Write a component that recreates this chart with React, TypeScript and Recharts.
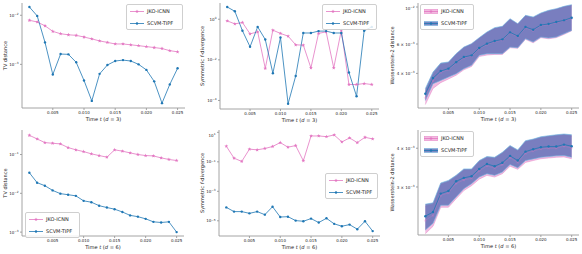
import React from "react";
import { ComposedChart, Line, Area, XAxis, YAxis, Legend } from "recharts";

const PINK = "#e377c2";
const BLUE = "#1f77b4";
const BAND = "#6473b8";
const BAND_EDGE = "#6cb4e0";
const FRAME = "#9a9a9a";

// time steps
const times = [
  0.00125, 0.0025, 0.00375, 0.005, 0.00625, 0.0075, 0.00875, 0.01, 0.01125, 0.0125,
  0.01375, 0.015, 0.01625, 0.0175, 0.01875, 0.02, 0.02125, 0.0225, 0.02375, 0.025,
];
const xTicks = [0.005, 0.01, 0.015, 0.02, 0.025];

// d = 3
const tvJko3 = [0.0079, 0.0073, 0.0061, 0.0047, 0.0042, 0.004, 0.0039, 0.0036, 0.0033, 0.003, 0.0028, 0.0026, 0.0026, 0.0025, 0.0024, 0.0023, 0.0022, 0.0021, 0.0019, 0.0018];
const tvScvm3 = [0.0147, 0.0097, 0.0028, 0.00062, 0.00162, 0.0016, 0.0011, 0.00047, 0.00018, 0.00064, 0.00097, 0.00117, 0.00122, 0.00117, 0.001, 0.00077, 0.00045, 0.000162, 0.00039, 0.00083];
const fdivJko3 = [0.83, 0.59, 0.69, 0.19, 0.24, 0.0038, 0.29, 0.2, 0.147, 0.055, 0.053, 0.004, 0.2, 0.24, 0.004, 0.29, 0.00061, 0.00061, 0.00068, 0.00061];
const fdivScvm3 = [4.0, 2.46, 0.27, 0.044, 0.42, 0.1, 0.0022, 0.126, 0.000069, 0.0016, 0.21, 0.21, 0.26, 0.26, 0.21, 0.21, 0.0024, 0.00016, 0.27, 0.42];
const w2Jko3 = [0.00285, 0.00362, 0.00405, 0.00422, 0.0046, 0.00495, 0.00508, 0.0056, 0.00596, 0.0062, 0.00632, 0.00698, 0.00662, 0.0075, 0.00722, 0.00772, 0.00783, 0.00805, 0.00825, 0.00855];
const w2JkoLo3 = [0.0026, 0.00325, 0.00352, 0.0037, 0.0039, 0.0042, 0.0044, 0.00505, 0.00515, 0.0052, 0.0052, 0.0057, 0.00565, 0.0064, 0.0061, 0.00655, 0.00645, 0.00655, 0.00685, 0.0072];
const w2JkoHi3 = [0.0031, 0.0039, 0.0045, 0.0046, 0.0052, 0.0057, 0.006, 0.0065, 0.007, 0.0074, 0.0076, 0.0084, 0.0079, 0.0088, 0.0086, 0.0091, 0.0094, 0.0097, 0.01, 0.0102];
const w2Scvm3 = [0.00302, 0.00375, 0.00413, 0.00427, 0.00466, 0.00501, 0.00513, 0.00568, 0.00603, 0.00625, 0.0064, 0.00705, 0.0067, 0.00759, 0.00731, 0.0078, 0.00791, 0.00813, 0.00832, 0.00863];
const w2ScvmLo3 = [0.00275, 0.00347, 0.00363, 0.0038, 0.00398, 0.00427, 0.00447, 0.00513, 0.00525, 0.00525, 0.00525, 0.00575, 0.0057, 0.00646, 0.00617, 0.00661, 0.00652, 0.00661, 0.00692, 0.00724];
const w2ScvmHi3 = [0.00324, 0.00407, 0.00461, 0.00468, 0.00525, 0.00575, 0.00603, 0.00655, 0.00708, 0.00752, 0.00766, 0.00851, 0.00794, 0.00891, 0.00871, 0.00921, 0.00955, 0.00977, 0.01009, 0.01033];

// d = 6
const tvJko6 = [0.313, 0.252, 0.203, 0.195, 0.188, 0.151, 0.132, 0.119, 0.104, 0.094, 0.0855, 0.132, 0.122, 0.11, 0.1, 0.094, 0.092, 0.082, 0.0745, 0.07];
const tvScvm6 = [0.0339, 0.0188, 0.0157, 0.0119, 0.0098, 0.0092, 0.0086, 0.0064, 0.0059, 0.0048, 0.0043, 0.0039, 0.0033, 0.0027, 0.0025, 0.0022, 0.00184, 0.00177, 0.00184, 0.001];
const fdivJko6 = [1.14, 0.178, 0.106, 0.72, 0.65, 0.8, 1.09, 2.02, 0.98, 1.27, 0.118, 5.66, 5.66, 5.11, 6.62, 2.24, 4.16, 2.02, 4.61, 3.56];
const fdivScvm6 = [8.1e-5, 4.2e-5, 4.2e-5, 3.2e-5, 4.2e-5, 2.6e-5, 9.0e-5, 1.8e-5, 1.9e-5, 1.03e-5, 9.3e-6, 1.41e-5, 7.6e-6, 1.48e-5, 6.2e-6, 4.3e-6, 5.5e-6, 2.7e-6, 9.3e-6, 2.0e-6];
const w2Jko6 = [0.00234, 0.00243, 0.00282, 0.00287, 0.00308, 0.00316, 0.0032, 0.00338, 0.00351, 0.00345, 0.00354, 0.00373, 0.0036, 0.00385, 0.00392, 0.00398, 0.004, 0.004, 0.00406, 0.00401];
const w2JkoLo6 = [0.00212, 0.00224, 0.00258, 0.00258, 0.00275, 0.00292, 0.00303, 0.00318, 0.00327, 0.00323, 0.00331, 0.0035, 0.00342, 0.0036, 0.00365, 0.0037, 0.00372, 0.00374, 0.00375, 0.0037];
const w2JkoHi6 = [0.0026, 0.00263, 0.00305, 0.00311, 0.00323, 0.00339, 0.00339, 0.00361, 0.00372, 0.0037, 0.00384, 0.00404, 0.00391, 0.00419, 0.00424, 0.00431, 0.00435, 0.00438, 0.0044, 0.00438];
const w2Scvm6 = [0.002415, 0.00249, 0.002856, 0.00291, 0.00313, 0.00321, 0.00325, 0.00343, 0.00356, 0.0035, 0.00359, 0.00378, 0.00365, 0.0039, 0.00397, 0.00403, 0.00405, 0.00405, 0.00411, 0.00406];
const w2ScvmLo6 = [0.00218, 0.00229, 0.00262, 0.00262, 0.002787, 0.002963, 0.003074, 0.00323, 0.003311, 0.00327, 0.00335, 0.003545, 0.00346, 0.00365, 0.003696, 0.00374, 0.00376, 0.00378, 0.00379, 0.00374];
const w2ScvmHi6 = [0.00264, 0.002666, 0.00309, 0.00315, 0.00327, 0.00343, 0.00343, 0.00365, 0.00376, 0.00374, 0.00388, 0.00408, 0.00395, 0.00423, 0.00428, 0.004356, 0.00439, 0.00442, 0.004445, 0.00442];

const lineRows = (jko: number[], scvm: number[]) =>
  times.map((t, i) => ({ t, jko: jko[i], scvm: scvm[i] }));

const bandRows = (
  jko: number[], jkoLo: number[], jkoHi: number[],
  scvm: number[], scvmLo: number[], scvmHi: number[]
) =>
  times.map((t, i) => ({
    t,
    jko: jko[i],
    jkoBand: [jkoLo[i], jkoHi[i]],
    scvm: scvm[i],
    scvmBand: [scvmLo[i], scvmHi[i]],
  }));

const AXW = 36;
const AXH = 20;
const PAD = 4;
const PADR = 3;

const starPath = (cx: number, cy: number, r: number) => {
  let d = "";
  for (let k = 0; k < 10; k++) {
    const rr = k % 2 === 0 ? r : r * 0.42;
    const a = -Math.PI / 2 + (k * Math.PI) / 5;
    d += (k === 0 ? "M" : "L") + (cx + rr * Math.cos(a)).toFixed(2) + "," + (cy + rr * Math.sin(a)).toFixed(2);
  }
  return d + "Z";
};

const makeStarDot = (opacity: number) => (p: any) => (
  <path key={`s-${p.index}`} d={starPath(p.cx, p.cy, 2)} fill={PINK} fillOpacity={opacity} stroke="none" />
);

const LogTick = (props: any) => {
  const { x, y, payload } = props;
  const v = payload.value;
  const e = Math.floor(Math.log10(v) + 1e-9);
  const m = Math.round(v / Math.pow(10, e));
  const es = e < 0 ? `\u2212${-e}` : `${e}`;
  return (
    <text x={x} y={y} dy={1.6} textAnchor="end" fontSize={4} fill="#222">
      {m !== 1 ? `${m} \u00d7 ` : ""}10
      <tspan dy={-1.8} fontSize={2.9}>{es}</tspan>
    </text>
  );
};

const XLabel = (props: any) => {
  const { x, y, width } = props.viewBox;
  return (
    <text x={x + width / 2} y={y + 12.8} textAnchor="middle" fontSize={5.1} fill="#222">
      Time <tspan fontStyle="italic">t</tspan> (<tspan fontStyle="italic">d</tspan> = {props.d})
    </text>
  );
};

const YLabel = (props: any) => {
  const { x, y, width, height } = props.viewBox;
  const cx = x + width - props.off;
  const cy = y + height / 2;
  return (
    <text
      x={cx}
      y={cy}
      transform={`rotate(-90 ${cx} ${cy})`}
      textAnchor="middle"
      dominantBaseline="central"
      fontSize={5}
      fill="#222"
    >
      {props.italicF ? (
        <>
          Symmetric <tspan fontStyle="italic">f</tspan>-divergence
        </>
      ) : (
        props.text
      )}
    </text>
  );
};

const LegendBox = ({ band }: { band?: boolean }) => {
  const items = [
    { label: "JKO-ICNN", color: PINK, star: true },
    { label: "SCVM-TIPF", color: BLUE, star: false },
  ];
  return (
    <div
      style={{
        border: "0.6px solid #cfcfcf",
        borderRadius: 2,
        background: "rgba(255,255,255,0.85)",
        padding: "1px 3px",
        fontSize: 5,
        color: "#222",
        fontFamily: "DejaVu Sans",
      }}
    >
      {items.map((it, i) => (
        <div
          key={it.label}
          style={{ display: "flex", alignItems: "center", height: 10, marginTop: i ? 2 : 0 }}
        >
          <svg width={14} height={7} style={{ marginRight: 3 }}>
            {band && (
              <rect
                x={0}
                y={1.5}
                width={14}
                height={4}
                fill={it.star ? PINK : BAND}
                fillOpacity={it.star ? 0.5 : 0.85}
                stroke={it.star ? PINK : BAND_EDGE}
                strokeWidth={0.5}
              />
            )}
            <line x1={0} y1={3.5} x2={14} y2={3.5} stroke={it.color} strokeWidth={0.8} />
            {it.star ? (
              <path d={starPath(7, 3.5, 2)} fill={PINK} />
            ) : (
              <circle cx={7} cy={3.5} r={1.2} fill={BLUE} />
            )}
          </svg>
          <span>{it.label}</span>
        </div>
      ))}
    </div>
  );
};

type PanelProps = {
  plotX: number;
  plotY: number;
  plotW: number;
  plotH: number;
  rows: any[];
  yDomain: [number, number];
  yTicks: number[];
  yLabel: string;
  italicF?: boolean;
  yOff: number;
  d: number;
  legendX: number;
  legendY: number;
  legendW: number;
  band?: boolean;
};

const Panel = (p: PanelProps) => {
  const width = AXW + p.plotW + PADR;
  const height = PAD + p.plotH + AXH;
  // in the band panels the pink mean line sits under the blue band
  const pinkOpacity = p.band ? 0.3 : 1;
  return (
    <div style={{ position: "absolute", left: p.plotX - AXW, top: p.plotY - PAD }}>
      <ComposedChart
        width={width}
        height={height}
        data={p.rows}
        margin={{ top: PAD, right: PADR, left: 0, bottom: 0 }}
      >
        <XAxis
          dataKey="t"
          type="number"
          domain={[0.0000625, 0.0261875]}
          allowDataOverflow
          ticks={xTicks}
          tickFormatter={(v: number) => v.toFixed(3)}
          tick={{ fontSize: 4, fill: "#222" }}
          tickSize={2}
          tickMargin={1}
          height={AXH}
          stroke={FRAME}
          strokeWidth={0.9}
          label={<XLabel d={p.d} />}
        />
        <XAxis
          xAxisId="top"
          orientation="top"
          dataKey="t"
          type="number"
          domain={[0, 1]}
          height={0}
          tick={false}
          tickLine={false}
          stroke={FRAME}
          strokeWidth={0.9}
        />
        <YAxis
          scale="log"
          type="number"
          domain={p.yDomain}
          allowDataOverflow
          ticks={p.yTicks}
          tick={<LogTick />}
          tickSize={2}
          tickMargin={1.5}
          width={AXW}
          stroke={FRAME}
          strokeWidth={0.9}
          label={<YLabel text={p.yLabel} italicF={p.italicF} off={p.yOff} />}
        />
        <YAxis
          yAxisId="right"
          orientation="right"
          type="number"
          domain={[0, 1]}
          width={0}
          tick={false}
          tickLine={false}
          stroke={FRAME}
          strokeWidth={0.9}
        />
        {p.band && (
          <Area
            type="linear"
            dataKey="jkoBand"
            fill={PINK}
            fillOpacity={0.5}
            stroke={PINK}
            strokeOpacity={0.7}
            strokeWidth={0.6}
            dot={false}
            activeDot={false}
            isAnimationActive={false}
          />
        )}
        {p.band && (
          <Area
            type="linear"
            dataKey="scvmBand"
            fill={BAND}
            fillOpacity={0.85}
            stroke={BAND_EDGE}
            strokeWidth={0.6}
            dot={false}
            activeDot={false}
            isAnimationActive={false}
          />
        )}
        <Line
          type="linear"
          dataKey="jko"
          stroke={PINK}
          strokeOpacity={pinkOpacity}
          strokeWidth={0.8}
          dot={makeStarDot(pinkOpacity)}
          activeDot={false}
          isAnimationActive={false}
        />
        <Line
          type="linear"
          dataKey="scvm"
          stroke={BLUE}
          strokeWidth={0.8}
          dot={{ r: 1.2, fill: BLUE, stroke: BLUE, strokeWidth: 0 }}
          activeDot={false}
          isAnimationActive={false}
        />
        <Legend
          layout="vertical"
          align="center"
          verticalAlign="middle"
          wrapperStyle={{
            left: AXW + p.legendX,
            top: PAD + p.legendY,
            width: p.legendW,
            right: "auto",
            bottom: "auto",
          }}
          content={() => <LegendBox band={p.band} />}
        />
      </ComposedChart>
    </div>
  );
};

export default function App() {
  return (
    <div
      style={{
        position: "absolute",
        left: 0,
        top: 0,
        width: 582,
        height: 254,
        background: "#fff",
        fontFamily: "DejaVu Sans",
      }}
    >
      <Panel
        plotX={22} plotY={3} plotW={163} plotH={105}
        rows={lineRows(tvJko3, tvScvm3)}
        yDomain={[0.000129, 0.01778]} yTicks={[0.001, 0.01]}
        yLabel="TV distance" yOff={17} d={3}
        legendX={104} legendY={1} legendW={57}
      />
      <Panel
        plotX={220} plotY={3} plotW={159} plotH={106}
        rows={lineRows(fdivJko3, fdivScvm3)}
        yDomain={[3.8e-5, 6.3]} yTicks={[1e-4, 1e-3, 1e-2, 1e-1, 1]}
        yLabel="" italicF yOff={18} d={3}
        legendX={102} legendY={1} legendW={55}
      />
      <Panel
        plotX={418} plotY={3} plotW={161} plotH={105}
        rows={bandRows(w2Jko3, w2JkoLo3, w2JkoHi3, w2Scvm3, w2ScvmLo3, w2ScvmHi3)}
        yDomain={[0.00248, 0.01057]} yTicks={[0.003, 0.004, 0.006, 0.01]}
        yLabel="Wasserstein-2 distance" yOff={26} d={3}
        legendX={2} legendY={1} legendW={54} band
      />
      <Panel
        plotX={22} plotY={130} plotW={162} plotH={106}
        rows={lineRows(tvJko6, tvScvm6)}
        yDomain={[0.000794, 0.4285]} yTicks={[0.001, 0.01, 0.1]}
        yLabel="TV distance" yOff={17} d={6}
        legendX={3} legendY={82} legendW={55}
      />
      <Panel
        plotX={219} plotY={130} plotW={161} plotH={106}
        rows={lineRows(fdivJko6, fdivScvm6)}
        yDomain={[9.3e-7, 14.4]} yTicks={[1e-5, 1e-3, 1e-1, 10]}
        yLabel="" italicF yOff={17} d={6}
        legendX={106} legendY={43} legendW={53}
      />
      <Panel
        plotX={418} plotY={130} plotW={161} plotH={105}
        rows={bandRows(w2Jko6, w2JkoLo6, w2JkoHi6, w2Scvm6, w2ScvmLo6, w2ScvmHi6)}
        yDomain={[0.0021, 0.00458]} yTicks={[0.003, 0.004]}
        yLabel="Wasserstein-2 distance" yOff={26} d={6}
        legendX={2} legendY={1} legendW={54} band
      />
    </div>
  );
}
